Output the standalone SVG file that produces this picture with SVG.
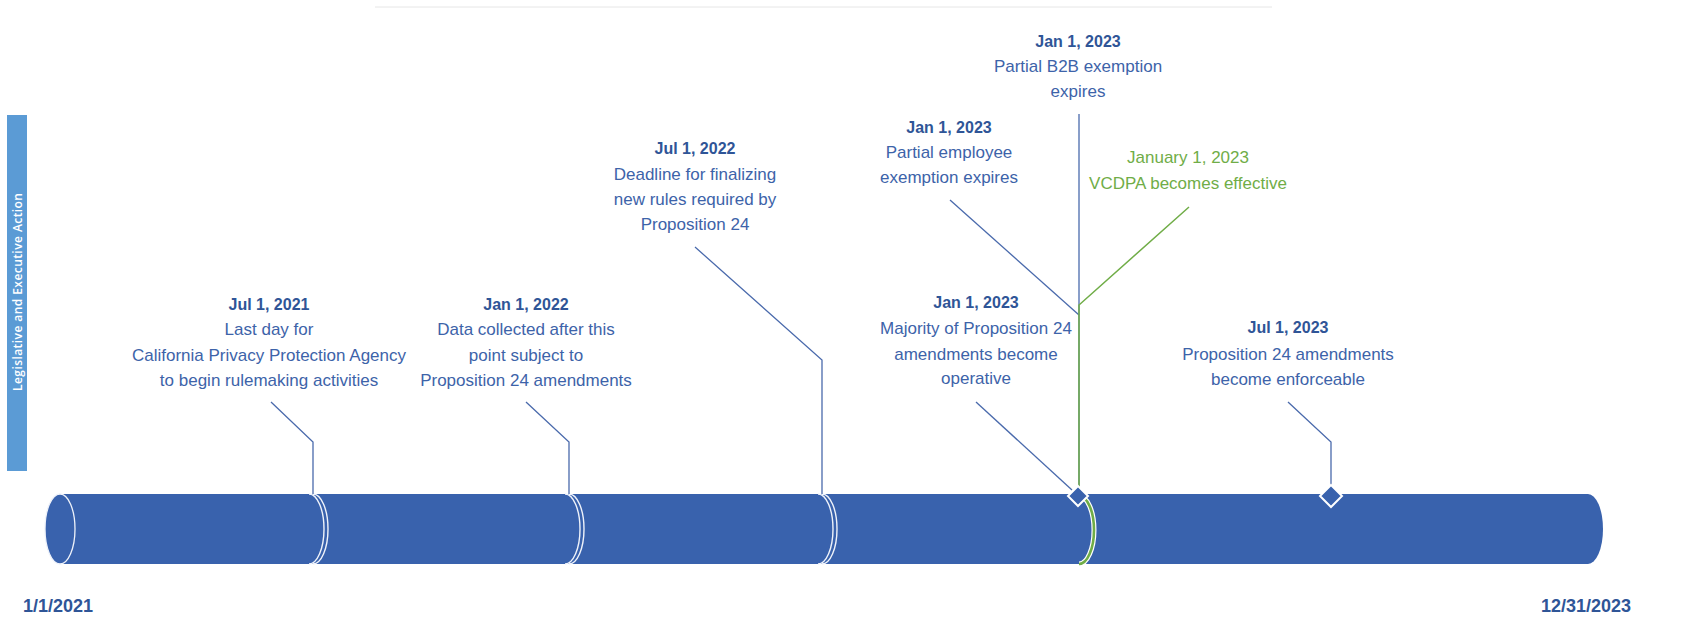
<svg xmlns="http://www.w3.org/2000/svg" width="1697" height="625" viewBox="0 0 1697 625">
  <style>
    text { font-family: "Liberation Sans", Arial, sans-serif; text-anchor: middle; }
    .date { font-size: 16px; font-weight: bold; fill: #2F5597; }
    .body { font-size: 17px; fill: #3D63A9; }
    .gdate, .gbody { font-size: 17px; fill: #70AD47; }
    .edge { font-size: 18px; font-weight: bold; fill: #2F5597; }
    .bar-label { font-family: "Open Sans", "Liberation Sans", sans-serif; font-size: 12px; font-weight: 600; fill: #FFFFFF; }
    .conn { fill: none; stroke: #4A6AAC; stroke-width: 1.3; }
    .conn-green { fill: none; stroke: #70AD47; stroke-width: 1.5; }
    .seam { fill: none; stroke: #EEF2FA; stroke-width: 1.4; }
    .tube { fill: #3962AD; }
    .milestone { fill: #3962AD; stroke: #FFFFFF; stroke-width: 2; }
  </style>

  <rect width="1697" height="625" fill="#FFFFFF"/>

  <!-- faint rule along the top edge -->
  <line x1="375" y1="7" x2="1272" y2="7" stroke="#E6E6E6" stroke-width="1"/>

  <!-- side band -->
  <g id="band">
    <rect x="7" y="115" width="20" height="356" fill="#5B9BD5"/>
    <text class="bar-label" transform="translate(17.5,292) rotate(-90)" dominant-baseline="central" textLength="198">Legislative and Executive Action</text>
  </g>

  <!-- timeline tube -->
  <g id="timeline">
    <path class="tube" d="M60,494 L1588,494 A15,35 0 0 1 1588,564 L60,564 Z"/>
    <ellipse cx="60" cy="529" rx="15" ry="35" fill="#3962AD" stroke="#EEF2FA" stroke-width="1.3"/>
    <!-- segment seams -->
    <path class="seam" d="M309,494 A15,35 0 0 1 309,564 M313,494 A15,35 0 0 1 313,564"/>
    <path class="seam" d="M565,494 A15,35 0 0 1 565,564 M569,494 A15,35 0 0 1 569,564"/>
    <path class="seam" d="M818,494 A15,35 0 0 1 818,564 M822,494 A15,35 0 0 1 822,564"/>
    <path d="M1079,496 A15,34 0 0 1 1079,564" fill="none" stroke="#FFFFFF" stroke-width="5"/>
    <path d="M1079,496 A15,34 0 0 1 1079,564" fill="none" stroke="#70AD47" stroke-width="2.6"/>
  </g>

  <!-- connectors -->
  <g id="connectors">
    <path class="conn" d="M271,402 L313,442 L313,494"/>
    <path class="conn" d="M526,402 L569,442 L569,494"/>
    <path class="conn" d="M695,247 L822,360 L822,494"/>
    <path class="conn" d="M950,200 L1079,315"/>
    <path class="conn" d="M1079,114 L1079,488"/>
    <path class="conn-green" d="M1189,207 L1079,305 L1079,488"/>
    <path class="conn" d="M976,402 L1072,490"/>
    <path class="conn" d="M1288,402 L1331,442 L1331,486"/>
  </g>

  <!-- milestone markers -->
  <g id="markers">
    <path class="milestone" d="M1078,486 L1088,496 L1078,506 L1068,496 Z"/>
    <path class="milestone" d="M1331,485 L1342,496 L1331,507 L1320,496 Z"/>
  </g>

  <g id="ev-2021-07">
    <text class="date" x="269" y="310">Jul 1, 2021</text>
    <text class="body" x="269" y="335">Last day for</text>
    <text class="body" x="269" y="361">California Privacy Protection Agency</text>
    <text class="body" x="269" y="386">to begin rulemaking activities</text>
  </g>

  <g id="ev-2022-01">
    <text class="date" x="526" y="310">Jan 1, 2022</text>
    <text class="body" x="526" y="335">Data collected after this</text>
    <text class="body" x="526" y="361">point subject to</text>
    <text class="body" x="526" y="386">Proposition 24 amendments</text>
  </g>

  <g id="ev-2022-07">
    <text class="date" x="695" y="154">Jul 1, 2022</text>
    <text class="body" x="695" y="180">Deadline for finalizing</text>
    <text class="body" x="695" y="205">new rules required by</text>
    <text class="body" x="695" y="230">Proposition 24</text>
  </g>

  <g id="ev-2023-01-employee">
    <text class="date" x="949" y="133">Jan 1, 2023</text>
    <text class="body" x="949" y="158">Partial employee</text>
    <text class="body" x="949" y="183">exemption expires</text>
  </g>

  <g id="ev-2023-01-b2b">
    <text class="date" x="1078" y="47">Jan 1, 2023</text>
    <text class="body" x="1078" y="72">Partial B2B exemption</text>
    <text class="body" x="1078" y="97">expires</text>
  </g>

  <g id="ev-2023-01-vcdpa">
    <text class="gdate" x="1188" y="163">January 1, 2023</text>
    <text class="gbody" x="1188" y="189">VCDPA becomes effective</text>
  </g>

  <g id="ev-2023-01-majority">
    <text class="date" x="976" y="308">Jan 1, 2023</text>
    <text class="body" x="976" y="334">Majority of Proposition 24</text>
    <text class="body" x="976" y="360">amendments become</text>
    <text class="body" x="976" y="384">operative</text>
  </g>

  <g id="ev-2023-07">
    <text class="date" x="1288" y="333">Jul 1, 2023</text>
    <text class="body" x="1288" y="360">Proposition 24 amendments</text>
    <text class="body" x="1288" y="385">become enforceable</text>
  </g>

  <g id="range">
    <text class="edge" x="58" y="612">1/1/2021</text>
    <text class="edge" x="1586" y="612">12/31/2023</text>
  </g>
</svg>
